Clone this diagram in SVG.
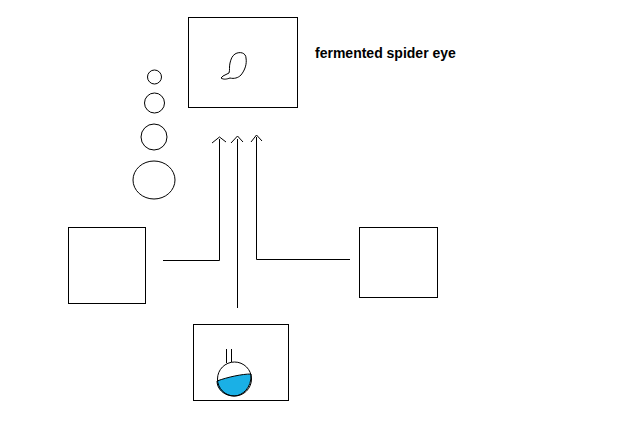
<svg xmlns="http://www.w3.org/2000/svg" width="640" height="442" viewBox="0 0 640 442">
<style>.b{fill:none;stroke:#000;stroke-width:1}.t{font-family:"Liberation Sans",Arial,sans-serif;font-weight:bold;font-size:14px}</style>
<rect width="640" height="442" fill="#fff"/>
<g id="eye"><rect class="b" x="188.5" y="17.5" width="109" height="90"/>
<path class="b" d="M235,54 C240,51 246,53 246,58 C247,64 245,70 241,75 C238,78 234,79 230,78 C227,79 224,80 221,78 L223,76 C225,75 227,74 229,73 C230,70 229,67 230,63 C231,59 232,56 235,54 Z"/></g>
<text class="t" x="315" y="58">fermented spider eye</text>
<g id="bubbles">
<circle class="b" cx="154.5" cy="77" r="7"/><circle class="b" cx="154.5" cy="103" r="10"/>
<circle class="b" cx="154" cy="137" r="13"/><ellipse class="b" cx="154" cy="180" rx="21" ry="19"/></g>
<g id="left"><rect class="b" x="68.5" y="227.5" width="77" height="76"/></g>
<g id="right"><rect class="b" x="359.5" y="227.5" width="78" height="70"/></g>
<g id="potion"><rect class="b" x="193.5" y="324.5" width="95" height="76"/>
<path d="M217,381 C228,377 242,374 251,374 C252,388 242,396 234,396 C224,396 217,389 217,381 Z" fill="#1ab0e6" stroke="#000"/>
<circle class="b" cx="234.5" cy="379" r="17"/>
<path class="b" d="M226.5,349 V363 M231.5,349 V362"/></g>
<g id="connectors" class="b">
<path class="b" d="M163,260.5 H219.5 V139 M212,143 L219.5,137 L226,142"/>
<path class="b" d="M237.5,308 V139 M231,143 L237.5,136 L243,142"/>
<path class="b" d="M350,259.5 H256.5 V137 M251,142 L256.5,135 L262,141"/>
</g>
</svg>
